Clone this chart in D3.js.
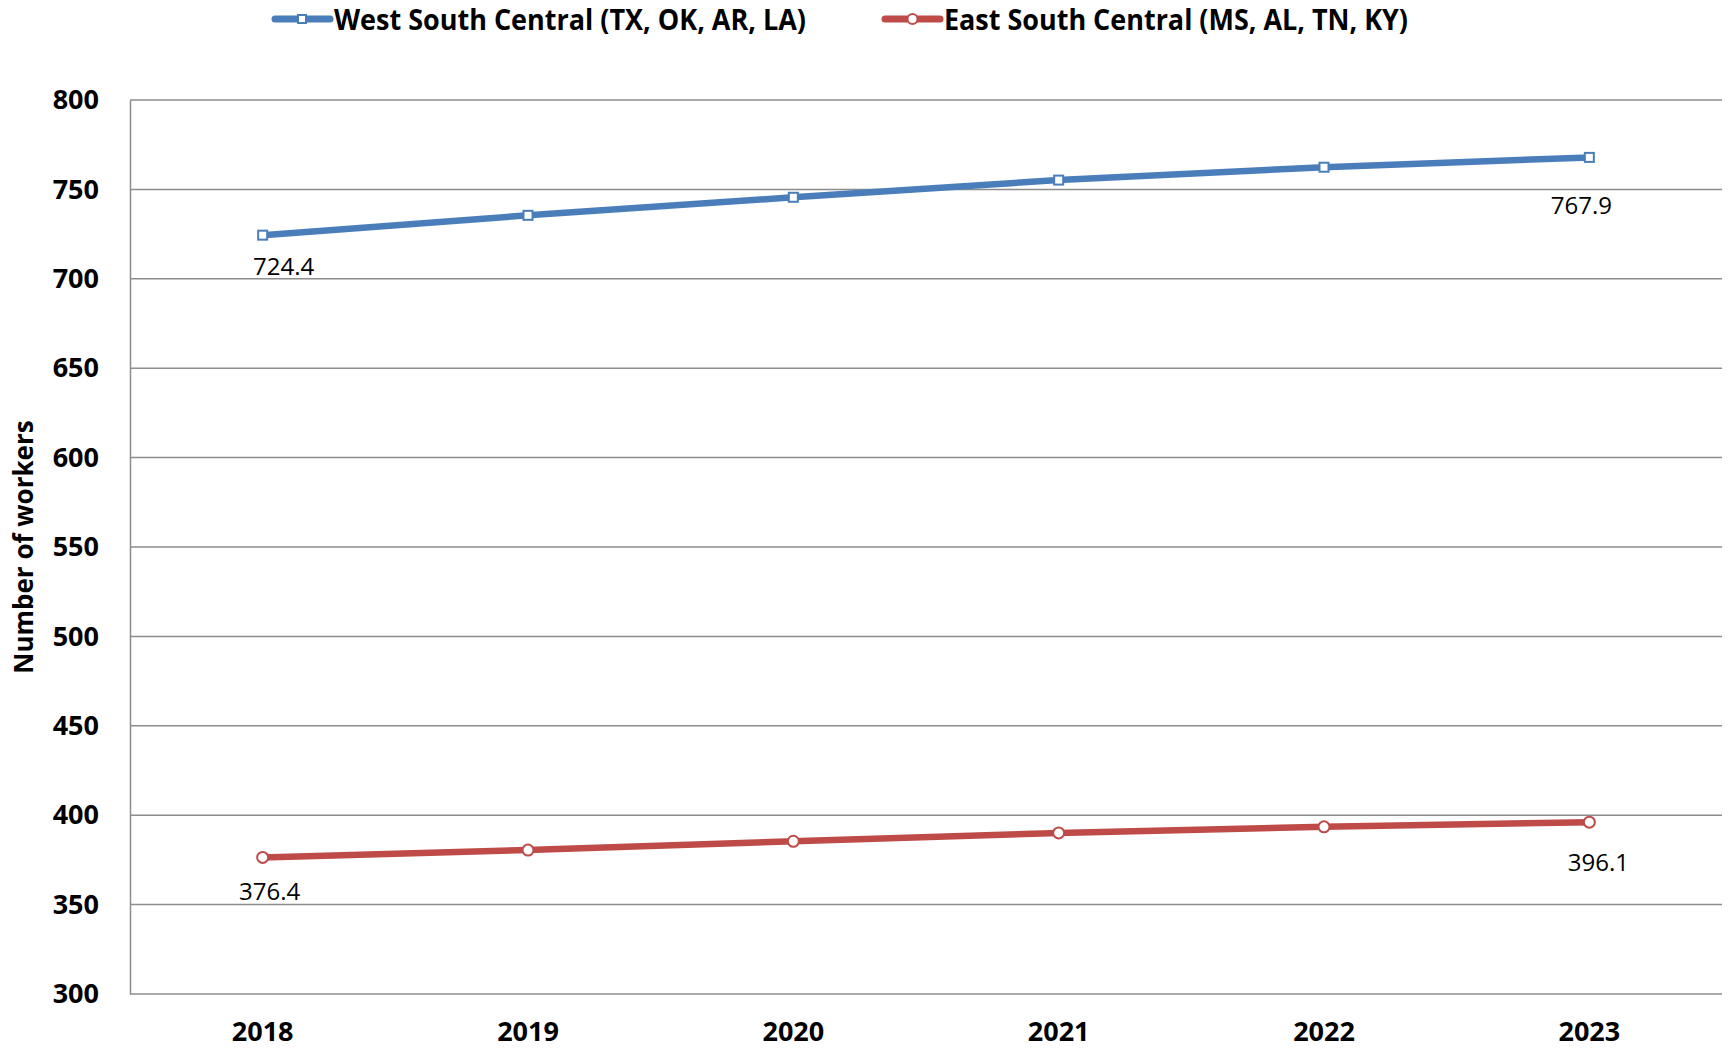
<!DOCTYPE html>
<html>
<head>
<meta charset="utf-8">
<title>Workers by region</title>
<script src="https://d3js.org/d3.v7.min.js"></script>
<style>
  body { margin: 0; background: #fff; }
  text { font-family: "Open Sans", "DejaVu Sans", sans-serif; }
</style>
</head>
<body>
<svg width="1729" height="1050"></svg>
<script>
// data
var years = ["2018", "2019", "2020", "2021", "2022", "2023"];
var westValues = [724.4, 735.5, 745.6, 755.2, 762.4, 767.9];
var eastValues = [376.4, 380.5, 385.4, 390.1, 393.5, 396.1];
var seriesNames = ["West South Central (TX, OK, AR, LA)", "East South Central (MS, AL, TN, KY)"];
var yTicks = [300, 350, 400, 450, 500, 550, 600, 650, 700, 750, 800];

var blue = "#4a7ebb", red = "#be4b48", grid = "#8c8c8c";

var svg = d3.select("svg");
var plotLeft = 130, plotRight = 1722, plotTop = 100, plotBottom = 994;

var x = d3.scaleBand().domain(years).range([plotLeft, plotRight]);
var y = d3.scaleLinear().domain([300, 800]).range([plotBottom, plotTop]);

// grid lines
svg.append("g")
  .selectAll("line")
  .data(yTicks)
  .enter().append("line")
  .attr("x1", plotLeft).attr("x2", plotRight)
  .attr("y1", function(d) { return y(d); })
  .attr("y2", function(d) { return y(d); })
  .attr("stroke", grid).attr("stroke-width", 1.5);

// y axis
var yAxis = svg.append("g")
  .attr("transform", "translate(" + plotLeft + ",0)")
  .call(d3.axisLeft(y).tickValues(yTicks).tickSize(0).tickPadding(31));
yAxis.select(".domain").attr("stroke", grid).attr("stroke-width", 1.5);
yAxis.selectAll("text")
  .attr("font-family", "Open Sans").attr("font-weight", "bold")
  .attr("font-size", "27px").attr("fill", "#000");

// x axis
var xAxis = svg.append("g")
  .attr("transform", "translate(0," + plotBottom + ")")
  .call(d3.axisBottom(x).tickSize(0).tickPadding(28));
xAxis.select(".domain").remove();
xAxis.selectAll("text")
  .attr("font-family", "Open Sans").attr("font-weight", "bold")
  .attr("font-size", "27px").attr("fill", "#000");

// y title
svg.append("text")
  .attr("transform", "translate(33,547) rotate(-90)")
  .attr("text-anchor", "middle")
  .attr("font-weight", "bold")
  .attr("font-size", "26px")
  .text("Number of workers");

function cx(i) { return x(years[i]) + x.bandwidth() / 2; }

var line = d3.line()
  .x(function(d, i) { return cx(i); })
  .y(function(d) { return y(d); });

// west series
svg.append("path").datum(westValues)
  .attr("d", line).attr("fill", "none")
  .attr("stroke", blue).attr("stroke-width", 6.5);
svg.append("g").selectAll("rect")
  .data(westValues).enter().append("rect")
  .attr("x", function(d, i) { return cx(i) - 4.5; })
  .attr("y", function(d) { return y(d) - 4.5; })
  .attr("width", 9).attr("height", 9)
  .attr("fill", "#fff").attr("stroke", blue).attr("stroke-width", 2);

// east series
svg.append("path").datum(eastValues)
  .attr("d", line).attr("fill", "none")
  .attr("stroke", red).attr("stroke-width", 6.5);
svg.append("g").selectAll("circle")
  .data(eastValues).enter().append("circle")
  .attr("cx", function(d, i) { return cx(i); })
  .attr("cy", function(d) { return y(d); })
  .attr("r", 5.5)
  .attr("fill", "#fff").attr("stroke", red).attr("stroke-width", 2);

// data labels on first and last points
var labels = [
  { values: westValues, i: 0, dx: 21, dy: 30 },
  { values: westValues, i: 5, dx: -8, dy: 47 },
  { values: eastValues, i: 0, dx: 7, dy: 33 },
  { values: eastValues, i: 5, dx: 9, dy: 39 }
];
svg.append("g").selectAll("text")
  .data(labels).enter().append("text")
  .attr("x", function(d) { return cx(d.i) + d.dx; })
  .attr("y", function(d) { return y(d.values[d.i]) + d.dy; })
  .attr("text-anchor", "middle")
  .attr("dominant-baseline", "central")
  .attr("font-size", "24px")
  .text(function(d) { return d.values[d.i].toFixed(1); });

// legend
var legend = svg.append("g");
var legendX = [275, 885];
var legendW = [472, 464];
[blue, red].forEach(function(c, k) {
  var g = legend.append("g").attr("transform", "translate(" + legendX[k] + ",19)");
  g.append("line").attr("x1", 0).attr("x2", 55)
    .attr("stroke", c).attr("stroke-width", 7).attr("stroke-linecap", "round");
  if (k == 0) {
    g.append("rect").attr("x", 23).attr("y", -4).attr("width", 8).attr("height", 8)
      .attr("fill", "#fff").attr("stroke", c).attr("stroke-width", 2);
  } else {
    g.append("circle").attr("cx", 27.5).attr("r", 5)
      .attr("fill", "#fff").attr("stroke", c).attr("stroke-width", 2);
  }
  g.append("text").attr("x", 59).attr("dominant-baseline", "central")
    .attr("font-weight", "bold").attr("font-size", "28px")
    .attr("textLength", legendW[k]).attr("lengthAdjust", "spacingAndGlyphs")
    .text(seriesNames[k]);
});
</script>
</body>
</html>
